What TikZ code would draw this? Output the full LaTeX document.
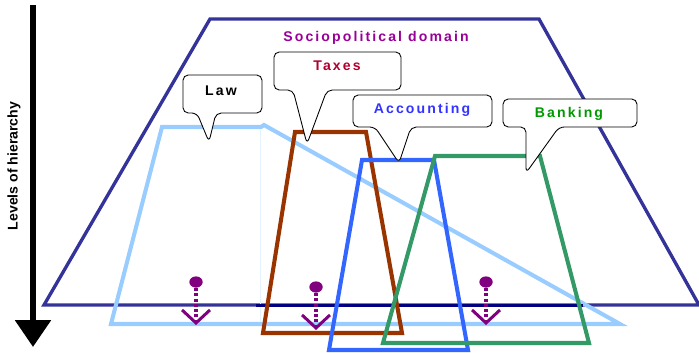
\documentclass[tikz,border=0pt]{standalone}
\usepackage{fontspec}
\setmainfont{Liberation Sans}
\newfontfamily\spaced[LetterSpace=15]{Liberation Sans}
\usetikzlibrary{arrows.meta,shapes.geometric}
\definecolor{socio}{HTML}{333399}
\definecolor{navyline}{HTML}{000080}
\definecolor{lawblue}{HTML}{99CCFF}
\definecolor{taxbrown}{HTML}{993300}
\definecolor{accblue}{HTML}{3366FF}
\definecolor{bankgreen}{HTML}{339966}
\definecolor{pinpurple}{HTML}{800080}
\definecolor{sociotext}{HTML}{990099}
\definecolor{taxtext}{HTML}{B00030}
\definecolor{acctext}{HTML}{3333FF}
\definecolor{banktext}{HTML}{009900}
\tikzset{
  area/.style={line width=2.3pt, line join=miter},
  bubble/.style={draw=black, fill=white, line width=0.5pt, rounded corners=3},
  tag/.style={font=\spaced\bfseries\fontsize{8}{9}\selectfont, inner sep=0pt},
  dot/.style={ellipse, fill=pinpurple, minimum width=7.6pt, minimum height=6.4pt, inner sep=0pt},
  pin/.style={pinpurple, line width=2.2pt, dash pattern=on 1.7pt off 1.3pt,
    -{Straight Barb[length=7.4pt, width=15.9pt, line width=1.7pt]}}
}
\begin{document}
\begin{tikzpicture}[x=0.02cm, y=-0.02cm]
  \useasboundingbox (0,0) rectangle (699,352);
  % levels arrow
  \coordinate (top) at (33,5);
  \coordinate (bottom) at (33,347);
  \draw [ line width=3.4pt, -{Triangle[length=15.3pt, width=19.8pt]} ] (top)--(bottom);
  \node [ font=\bfseries\fontsize{8}{9}\selectfont, rotate=90 ] (levels) at (14,166) { Levels of hierarchy };
  % domains
  \draw [ area, socio, line width=1.9pt ] (210,19)--(539,19)--(699,305)--(44,305)--cycle;
  \draw [ area, lawblue ] (162,127)--(261,127)--(264,125)--(620,324)--(111,324)--cycle;
  \draw [ lawblue!25, line width=0.3pt ] (260,129)--(260,322);
  \draw [ navyline, line width=1.7pt ] (256,305)--(583,305);
  \draw [ area, taxbrown ] (295,132)--(366,132)--(402,333)--(263,333)--cycle;
  \draw [ area, accblue ] (362,160)--(434,160)--(468,350)--(329,350)--cycle;
  \draw [ area, bankgreen ] (435,156)--(540,156)--(589,343)--(383,343)--cycle;
  \node [ tag, sociotext ] (socio) at (376,38) { Sociopolitical domain };
  % bubbles
  \draw [ bubble ] (209,142)--(197,113)--(183,113)--(183,75)--(262,75)--(262,113)--(216,113)--cycle;
  \node [ tag, black ] (law) at (221,91) { Law };
  \draw [ bubble ] (307,144)--(293,90)--(274,90)--(274,52)--(401,52)--(401,90)--(327,90)--cycle;
  \node [ tag, taxtext ] (taxes) at (337,66) { Taxes };
  \draw [ bubble ] (399,163)--(375,127)--(353,127)--(353,95)--(492,95)--(492,127)--(411,127)--cycle;
  \node [ tag, acctext ] (accounting) at (422,110) { Accounting };
  \draw [ bubble ] (526,173)--(526,127)--(503,127)--(503,99)--(637,99)--(637,127)--(559,127)--cycle;
  \node [ tag, banktext ] (banking) at (569,114) { Banking };
  % pins
  \node [ dot ] (pinA) at (196,282) {};
  \node [ dot ] (pinB) at (316,287) {};
  \node [ dot ] (pinC) at (486,282) {};
  \coordinate (tipA) at (196,325);
  \coordinate (tipB) at (316,330);
  \coordinate (tipC) at (486,325);
  \draw [ pin ] (pinA)--(tipA);
  \draw [ pin ] (pinB)--(tipB);
  \draw [ pin ] (pinC)--(tipC);
\end{tikzpicture}
\end{document}
